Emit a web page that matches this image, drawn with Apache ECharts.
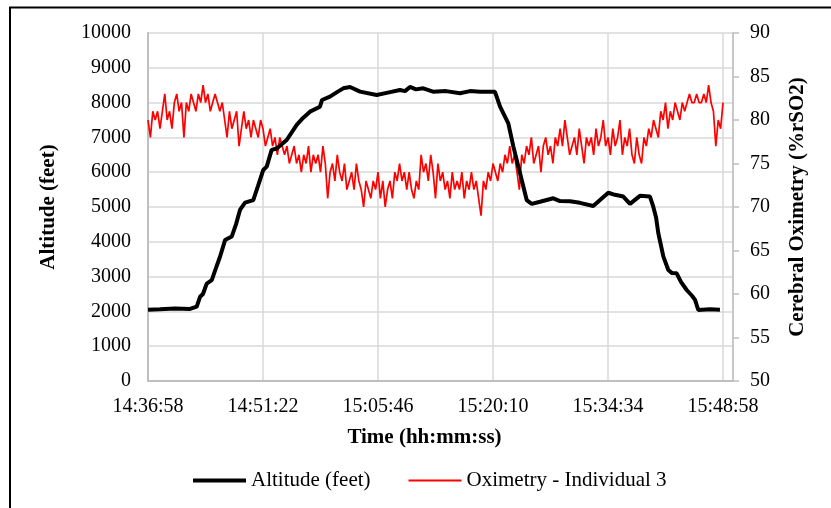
<!DOCTYPE html>
<html>
<head>
<meta charset="utf-8">
<script src="https://cdn.jsdelivr.net/npm/echarts@6/dist/echarts.min.js"></script>
<style>
html,body{margin:0;padding:0;background:#fff;}
#chart{width:831px;height:508px;}
</style>
</head>
<body>
<div id="chart"></div>
<script>
// Start of recording: 14:36:58 (seconds since midnight)
const startClock = 52618;
// Tick spacing on the time axis, seconds (14:24)
const timeTickStep = 864;
const timeAxisMax = 4395;

// Altitude (feet): elapsed seconds and readings
const altTimes = [0, 90, 203, 316, 366, 391, 413, 441, 479, 511, 541, 579, 629, 661, 691, 729, 791, 826, 866, 892, 929, 967, 1042, 1117, 1165, 1217, 1292, 1307, 1367, 1420, 1467, 1518, 1593, 1718, 1793, 1893, 1931, 1968, 2013, 2068, 2141, 2239, 2344, 2419, 2494, 2607, 2645, 2682, 2707, 2745, 2795, 2845, 2883, 2945, 3045, 3095, 3170, 3245, 3345, 3396, 3458, 3508, 3571, 3621, 3696, 3771, 3796, 3817, 3834, 3872, 3909, 3937, 3972, 4004, 4047, 4087, 4110, 4134, 4222, 4297];
const altValues = [2050, 2060, 2080, 2070, 2135, 2420, 2500, 2800, 2900, 3250, 3570, 4050, 4150, 4500, 4915, 5125, 5200, 5600, 6065, 6160, 6640, 6680, 6925, 7360, 7560, 7740, 7880, 8075, 8170, 8300, 8410, 8450, 8315, 8220, 8280, 8360, 8330, 8450, 8380, 8410, 8315, 8330, 8270, 8330, 8310, 8310, 7885, 7600, 7405, 6735, 5970, 5200, 5090, 5150, 5250, 5170, 5165, 5120, 5030, 5200, 5410, 5350, 5300, 5090, 5320, 5300, 5010, 4700, 4245, 3575, 3190, 3100, 3095, 2850, 2615, 2450, 2330, 2040, 2060, 2050];

// Oximetry (%rSO2): one reading every oxiStep seconds from the start
const oxiStep = 18;
const oxiValues = [
  80, 78, 81, 80, 81, 79, 81, 83, 80, 81,
  79, 82, 83, 81, 82, 78, 82, 81, 83, 82,
  81, 83, 82, 84, 82, 83, 81, 82, 83, 82,
  81, 82, 80, 78, 81, 79, 80, 81, 77, 79,
  81, 79, 80, 78, 80, 79, 78, 80, 79, 77,
  78, 79, 77, 78, 76, 78, 77, 76, 77, 75,
  76, 77, 75, 76, 74, 76, 75, 77, 74, 76,
  75, 76, 74, 77, 75, 71, 74, 75, 73, 76,
  74, 73, 75, 72, 73, 74, 72, 75, 73, 72,
  70, 73, 72, 71, 73, 72, 74, 71, 73, 70,
  72, 73, 71, 74, 73, 75, 73, 74, 72, 74,
  72, 71, 73, 72, 76, 74, 75, 73, 76, 74,
  71, 75, 73, 74, 72, 73, 71, 74, 72, 73,
  72, 74, 71, 73, 72, 74, 72, 73, 71, 69,
  73, 72, 74, 73, 75, 74, 73, 75, 74, 76,
  75, 77, 75, 76, 74, 72, 76, 75, 77, 76,
  78, 75, 76, 77, 74, 77, 78, 76, 77, 75,
  78, 77, 79, 77, 80, 78, 76, 77, 78, 76,
  79, 77, 75, 78, 77, 78, 76, 79, 77, 78,
  80, 77, 78, 76, 79, 77, 78, 80, 76, 78,
  77, 79, 76, 75, 78, 76, 75, 78, 77, 79,
  78, 80, 79, 78, 81, 80, 82, 79, 81, 80,
  82, 81, 80, 82, 81, 82, 83, 82, 82, 83,
  82, 82, 83, 82, 84, 82, 81, 77, 80, 79,
  82
];

const altLabel = 'Altitude (feet)';
const oxiLabel = 'Oximetry - Individual 3';

const altData = altTimes.map((t, i) => [t, altValues[i]]);
const oxiData = oxiValues.map((v, i) => [i * oxiStep, v]);

function clock(sec) {
  const s = Math.round(startClock + sec);
  const h = Math.floor(s / 3600);
  const m = Math.floor((s % 3600) / 60);
  const ss = s % 60;
  const p = n => (n < 10 ? '0' : '') + n;
  return h + ':' + p(m) + ':' + p(ss);
}

const FONT = 'Liberation Serif';
const TICK = 20;
const TITLE = 21;
const chart = echarts.init(document.getElementById('chart'), null, {renderer: 'canvas'});
chart.setOption({
  backgroundColor: '#ffffff',
  animation: false,
  textStyle: {fontFamily: FONT},
  grid: {left: 148, right: 98, top: 33, bottom: 127, containLabel: false},
  graphic: [{
    type: 'rect', silent: true,
    shape: {x: 10, y: 7.5, width: 900, height: 600},
    style: {fill: 'none', stroke: '#000', lineWidth: 2}
  }],
  legend: {
    left: 186, top: 465,
    itemWidth: 53, itemHeight: 14, itemGap: 37,
    itemStyle: {opacity: 0},
    textStyle: {fontFamily: FONT, fontSize: 21, color: '#000'},
    data: [
      {name: altLabel, lineStyle: {width: 4, color: '#000'}},
      {name: oxiLabel, lineStyle: {width: 2, color: '#ff0000'}}
    ]
  },
  xAxis: {
    type: 'value', min: 0, max: timeAxisMax, interval: timeTickStep,
    name: 'Time (hh:mm:ss)', nameLocation: 'middle', nameGap: 46,
    nameTextStyle: {fontFamily: FONT, fontSize: TITLE, fontWeight: 'bold', color: '#000', padding: [0, 32, 0, 0]},
    axisLine: {show: true, lineStyle: {color: '#bfbfbf', width: 2}},
    axisTick: {show: false},
    splitLine: {show: true, lineStyle: {color: '#d9d9d9', width: 1.5}},
    axisLabel: {
      fontFamily: FONT, fontSize: TICK, color: '#000', margin: 16,
      showMaxLabel: false,
      formatter: v => (v % timeTickStep === 0 ? clock(v) : '')
    }
  },
  yAxis: [{
    type: 'value', min: 0, max: 10000, interval: 1000, position: 'left',
    name: 'Altitude (feet)', nameLocation: 'middle', nameGap: 89, nameRotate: 90,
    nameTextStyle: {fontFamily: FONT, fontSize: TITLE, fontWeight: 'bold', color: '#000'},
    axisLine: {show: true, lineStyle: {color: '#bfbfbf', width: 2}},
    axisTick: {show: false},
    splitLine: {show: true, lineStyle: {color: '#d9d9d9', width: 1.5}},
    axisLabel: {fontFamily: FONT, fontSize: TICK, color: '#000', margin: 17, formatter: v => String(v)}
  }, {
    type: 'value', min: 50, max: 90, interval: 5, position: 'right',
    name: 'Cerebral Oximetry (%rSO2)', nameLocation: 'middle', nameGap: 54, nameRotate: 90,
    nameTextStyle: {fontFamily: FONT, fontSize: TITLE, fontWeight: 'bold', color: '#000'},
    axisLine: {show: true, lineStyle: {color: '#bfbfbf', width: 1.5}},
    axisTick: {show: true, length: 6, lineStyle: {color: '#bfbfbf', width: 1.5}},
    splitLine: {show: false},
    axisLabel: {fontFamily: FONT, fontSize: TICK, color: '#000', margin: 17, formatter: v => String(v)}
  }],
  series: [{
    name: altLabel, type: 'line', yAxisIndex: 0, data: altData,
    showSymbol: false, symbol: 'none', z: 3,
    lineStyle: {color: '#000', width: 4}, itemStyle: {color: '#000'}
  }, {
    name: oxiLabel, type: 'line', yAxisIndex: 1, data: oxiData,
    showSymbol: false, symbol: 'none', z: 2,
    lineStyle: {color: '#ff0000', width: 1.7}, itemStyle: {color: '#ff0000'}
  }]
});
</script>
</body>
</html>
